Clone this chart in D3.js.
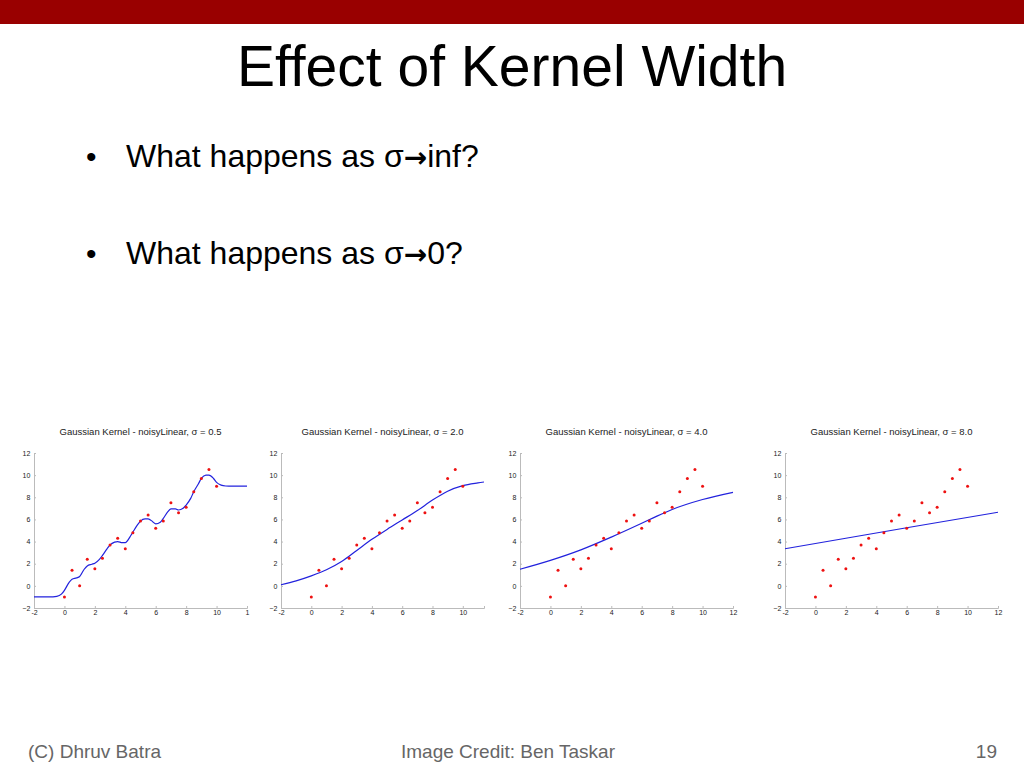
<!DOCTYPE html>
<html><head><meta charset="utf-8">
<script src="https://cdn.jsdelivr.net/npm/d3@7"></script>
<style>body{margin:0;background:#fff;font-family:"Liberation Sans",Arial,sans-serif}</style>
</head><body>
<svg id="s" width="1024" height="768"></svg>
<script>
const pointX = [0,0.5,1,1.5,2,2.5,3,3.5,4,4.5,5,5.5,6,6.5,7,7.5,8,8.5,9,9.5,10];
const pointY = [-1,1.4,0,2.4,1.55,2.5,3.7,4.3,3.35,4.8,5.85,6.4,5.2,5.85,7.5,6.6,7.1,8.5,9.7,10.5,9.0];
const sigmas = ["0.5","2.0","4.0","8.0"];
const curve1X = [-2,-1,-0.5,-0.2,0,0.3,0.5,0.8,1,1.3,1.5,1.8,2,2.3,2.5,2.8,3,3.3,3.5,3.8,4,4.3,4.5,4.8,5,5.3,5.5,5.8,6,6.3,6.5,6.8,7,7.3,7.5,7.8,8,8.3,8.5,8.8,9,9.3,9.5,9.8,10,10.3,10.6,11,12];
const curve1Y = [-1,-1,-0.95,-0.75,-0.4,0.3,0.6,0.72,0.85,1.5,1.8,1.95,2.05,2.4,2.75,3.35,3.7,3.95,4.0,3.9,3.9,4.4,4.85,5.5,5.85,6.05,6.05,5.8,5.6,5.75,6.1,6.7,6.95,6.95,6.85,7.0,7.3,7.9,8.5,9.2,9.7,10.0,10.0,9.7,9.35,9.1,9.02,9.0,9.0];
const curve2X = [-2,-1,0,1,2,3,4,5,6,7,8,9,10,11,11.4];
const curve2Y = [0.1,0.45,0.9,1.45,2.2,3.2,4.2,5.1,5.95,6.8,7.75,8.55,9.05,9.3,9.38];
const curve3X = [-2,0,2,4,6,7,8,10,12];
const curve3Y = [1.5,2.3,3.25,4.4,5.65,6.3,6.9,7.8,8.45];
const curve4X = [-2,2,6,12];
const curve4Y = [3.35,4.3,5.25,6.65];
const yTicks = [-2,0,2,4,6,8,10,12];
const xTicks = [-2,0,2,4,6,8,10,12];

const svg = d3.select("#s");
svg.append("rect").attr("width",1024).attr("height",24).attr("fill","#990000");
svg.append("text").attr("x",512).attr("y",86).attr("text-anchor","middle").attr("font-size",57).attr("fill","#000").text("Effect of Kernel Width");
[["What happens as σ","inf?",167],["What happens as σ","0?",264]].forEach(b=>{
  svg.append("text").attr("x",86).attr("y",b[2]).attr("font-size",30).text("•");
  const t = svg.append("text").attr("x",126).attr("y",b[2]).attr("font-size",32);
  t.append("tspan").text(b[0]);
  t.append("tspan").attr("font-family","DejaVu Sans").attr("font-weight","bold").attr("font-size",28).text("\u2192");
  t.append("tspan").text(b[1]);
});
svg.append("text").attr("x",28).attr("y",758).attr("font-size",19).attr("fill","#666").text("(C) Dhruv Batra");
svg.append("text").attr("x",508).attr("y",758).attr("font-size",19).attr("fill","#666").attr("text-anchor","middle").text("Image Credit: Ben Taskar");
svg.append("text").attr("x",997).attr("y",758).attr("font-size",19).attr("fill","#666").attr("text-anchor","end").text("19");

const panels = [
  {x0:34, xmax:12, px1:247, cx:curve1X, cy:curve1Y, last:"1"},
  {x0:281, xmax:11.4, px1:281+13.4*15.15, cx:curve2X, cy:curve2Y},
  {x0:520, xmax:12, px1:733, cx:curve3X, cy:curve3Y},
  {x0:785, xmax:12, px1:998, cx:curve4X, cy:curve4Y}
];
panels.forEach((p,i)=>{
  const x = d3.scaleLinear().domain([-2,p.xmax]).range([p.x0,p.px1]);
  const y = d3.scaleLinear().domain([-2,12]).range([608,453]);
  const g = svg.append("g").attr("font-size",7);
  g.append("text").attr("x",(p.x0+p.px1)/2).attr("y",435).attr("text-anchor","middle").attr("font-size",9.5).attr("fill","#222")
    .text("Gaussian Kernel - noisyLinear,  σ = "+sigmas[i]);
  const xa = d3.axisBottom(x).tickValues(xTicks.filter(t=>t<=p.xmax)).tickSize(-2).tickFormat(t=> (t===12&&p.last)?p.last:t);
  const gx = g.append("g").attr("transform","translate(0,608)").call(xa);
  const ya = d3.axisLeft(y).tickValues(yTicks).tickSize(-2);
  const gy = g.append("g").attr("transform",`translate(${p.x0},0)`).call(ya);
  [gx,gy].forEach(a=>{a.select(".domain").attr("stroke","#bbb");a.selectAll("line").attr("stroke","#bbb");a.selectAll("text").attr("font-size",7).attr("fill","#222").attr("font-family","Liberation Sans,Arial");});
  gx.selectAll("text").attr("dy","0.6em");
  gy.selectAll("text").attr("dx","-0.1em");
  const line = d3.line().x((d,k)=>x(p.cx[k])).y(d=>y(d)).curve(d3.curveMonotoneX);
  g.append("path").attr("d",line(p.cy)).attr("fill","none").attr("stroke","#2222dd").attr("stroke-width",1.2);
  g.selectAll("circle").data(pointY).enter().append("circle")
    .attr("cx",(d,k)=>x(pointX[k])).attr("cy",d=>y(d)).attr("r",1.5).attr("fill","#ee1111");
});
</script>
</body></html>
